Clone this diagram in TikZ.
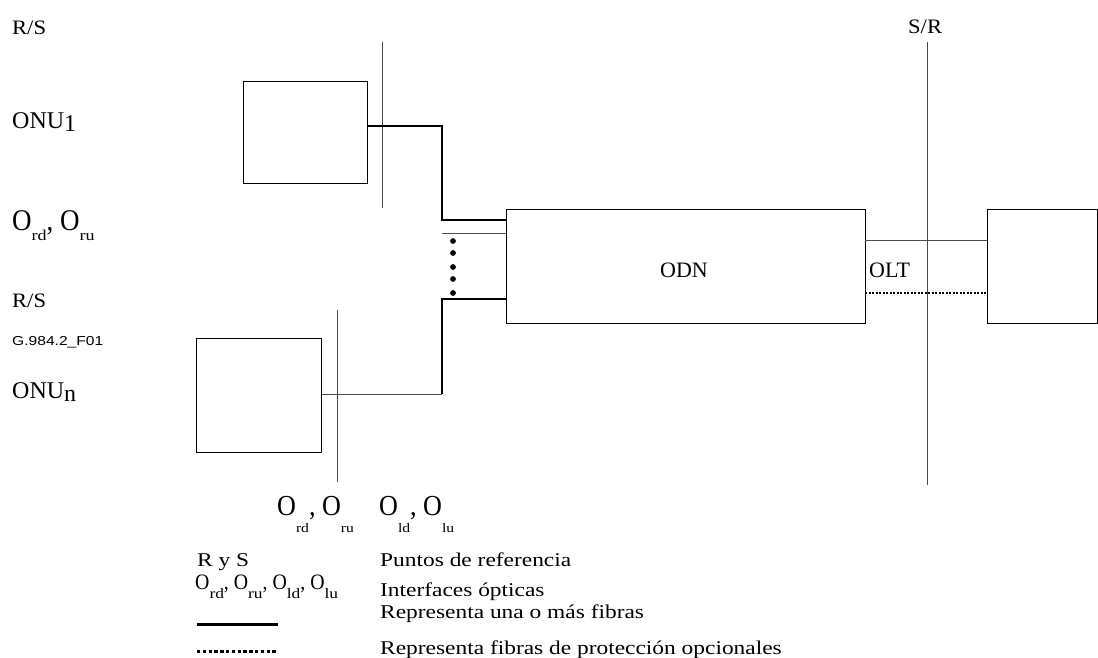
\documentclass[tikz,border=0pt]{standalone}
\usepackage{fontspec}
\setmainfont{Liberation Serif}
\newfontfamily\fwide[FakeStretch=1.2]{Liberation Serif}
\newfontfamily\fmidw[FakeStretch=1.1]{Liberation Serif}
\newfontfamily\fnarrow[FakeStretch=0.9]{Liberation Serif}
\newfontfamily\gsans[FakeStretch=1.2]{Liberation Sans}
\newcommand\fs[1]{\fontsize{#1}{#1}\selectfont}
% O with a lowered subscript: #1 O size, #2 sub size, #3 drop, #4 sub, #5 trailing
\newcommand\Osub[5]{{\fnarrow\fs{#1}O}\raisebox{-#3pt}{\fwide\fs{#2}#4}{\fnarrow\fs{#1}#5}}
\tikzset{
  box/.style={draw=black, line width=1.1pt, inner sep=0pt, anchor=north west},
  fiber/.style={line width=1.7pt, black},
  thinln/.style={line width=0.9pt, gray!60!black},
  refl/.style={line width=0.9pt, gray!60!black},
  protect/.style={line width=1.4pt, black, dash pattern=on 2pt off 1.5pt},
  lbl/.style={inner sep=0pt, anchor=base west},
}
\begin{document}
\begin{tikzpicture}[x=1pt,y=-1pt]
\useasboundingbox (0,0) rectangle (1098,657);

% boxes
\node[box, minimum width=124pt, minimum height=102pt] (onu1) at (243,81) {};
\node[box, minimum width=125pt, minimum height=114pt] (onun) at (196,338) {};
\node[box, minimum width=359pt, minimum height=114pt] (odn) at (506,209) {};
\node[box, minimum width=110pt, minimum height=114pt] (olt) at (987,209) {};

% reference lines
\coordinate (r1a) at (382,42);  \coordinate (r1b) at (382,208);
\coordinate (r2a) at (337,310); \coordinate (r2b) at (337,482);
\coordinate (r3a) at (927,42);  \coordinate (r3b) at (927,485);
\draw[refl] (r1a) -- (r1b);
\draw[refl] (r2a) -- (r2b);
\draw[refl] (r3a) -- (r3b);

% fibres ONU1 -> ODN
\coordinate (u1) at (367,126);
\coordinate (k1) at (442,126);
\coordinate (k2) at (442,220);
\draw[fiber] (u1) -- (k1) -- (k2) -- (k2 -| odn.west);
\coordinate (g1) at (442,233);
\draw[thinln] (g1) -- (g1 -| odn.west);
\foreach \yy in {241,253,267,279,293} \fill (453,\yy) circle (2.9pt);
% fibres ONUn -> ODN
\coordinate (k3) at (442,299);
\coordinate (k4) at (442,394);
\draw[fiber] (k3 -| odn.west) -- (k3) -- (k4);
\draw[thinln] (k4) -- (k4 -| onun.east);

% ODN -> OLT
\coordinate (t1) at (865,240);
\coordinate (t2) at (865,293);
\draw[thinln] (t1) -- (t1 -| olt.west);
\draw[protect] (t2) -- (t2 -| olt.west);

% labels
\node[lbl] (rs1) at (12,34) {\fmidw\fs{20.5}R/S};
\node[lbl] (sr) at (908,33) {\fmidw\fs{20.5}S/R};
\node[lbl] (lonu1) at (12,128) {\fs{24}ONU\raisebox{-3pt}{1}};
\node[lbl] (lor) at (12,230) {\Osub{30}{15}{10}{rd}{, }\Osub{30}{15}{10}{ru}{}};
\node[lbl] (rs2) at (12,307) {\fmidw\fs{20.5}R/S};
\node[lbl] (fig) at (12,345) {\gsans\fs{13}G.984.2\_F01};
\node[lbl] (lonun) at (12,398) {\fs{24}ONU\raisebox{-3pt}{n}};
\node[inner sep=0pt, anchor=base] (todn) at (684,277) {\fs{22}ODN};
\node[lbl] (tolt) at (869,277) {\fs{22}OLT};

\node[lbl] (ob1) at (277,515) {\Osub{29}{13}{17}{rd}{, }\Osub{29}{13}{17}{ru}{}};
\node[lbl] (ob2) at (379,515) {\Osub{29}{13}{17}{ld}{, }\Osub{29}{13}{17}{lu}{}};

% legend
\node[lbl] (lgrs) at (197,566) {\fwide\fs{19.5}R y S};
\node[lbl] (lgo) at (195,589) {\Osub{22}{14.5}{9}{rd}{, }\Osub{22}{14.5}{9}{ru}{, }\Osub{22}{14.5}{9}{ld}{, }\Osub{22}{14.5}{9}{lu}{}};
\node[lbl] (lt1) at (380,566) {\fwide\fs{19.5}Puntos de referencia};
\node[lbl] (lt2) at (380,596) {\fwide\fs{19.5}Interfaces ópticas};
\node[lbl] (lt3) at (380,618) {\fwide\fs{19.5}Representa una o más fibras};
\node[lbl] (lt4) at (380,654) {\fwide\fs{19.5}Representa fibras de protección opcionales};
\coordinate (ls1) at (197,624); \coordinate (ls2) at (278,624);
\coordinate (ld1) at (197,651); \coordinate (ld2) at (278,651);
\draw[line width=3pt] (ls1) -- (ls2);
\draw[line width=3pt, dash pattern=on 3.4pt off 2.4pt] (ld1) -- (ld2);
\end{tikzpicture}
\end{document}
